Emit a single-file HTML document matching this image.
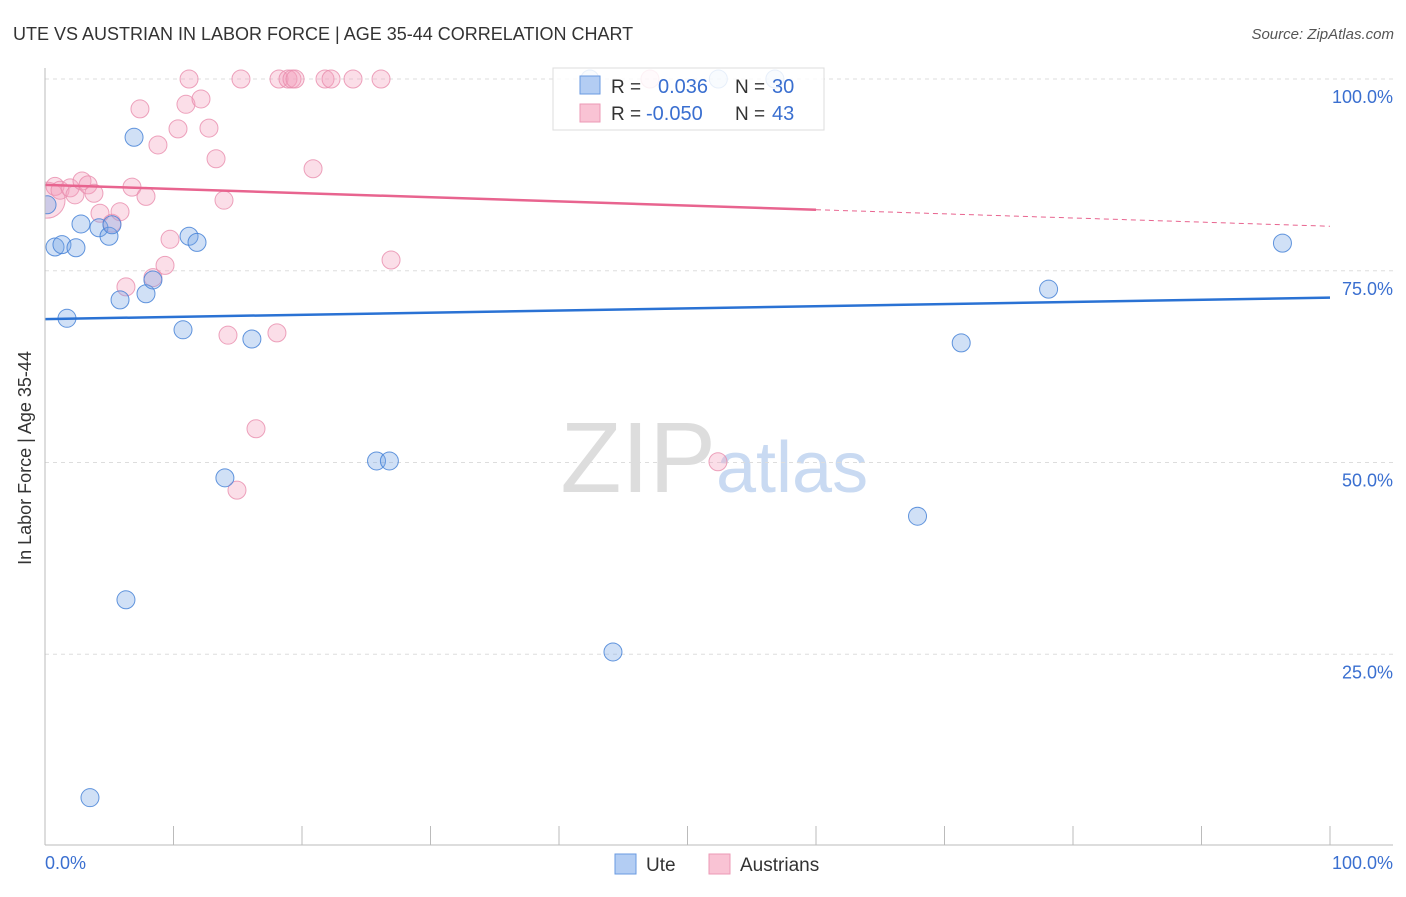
<!DOCTYPE html>
<html><head><meta charset="utf-8"><style>
body{margin:0;background:#fff;font-family:"Liberation Sans",sans-serif;}
svg text{font-family:"Liberation Sans",sans-serif;}
</style></head><body>
<svg id="c" width="1406" height="892">
<defs><clipPath id="plot"><rect x="45" y="60" width="1360" height="786"/></clipPath></defs>
<text x="13" y="40" font-size="18" fill="#333">UTE VS AUSTRIAN IN LABOR FORCE | AGE 35-44 CORRELATION CHART</text>
<text x="1394" y="39" font-size="15" fill="#555" font-style="italic" text-anchor="end">Source: ZipAtlas.com</text>
<text x="716" y="492" font-size="100" fill="#ddd" text-anchor="end" font-family="Liberation Serif">ZIP</text>
<text x="716" y="492" font-size="72" fill="#c9daf2">atlas</text>
<g id="grid"></g><g id="pts" clip-path="url(#plot)"></g><g id="trend"></g>
<line x1="45" y1="68" x2="45" y2="845" stroke="#bbb"/>
<line x1="45" y1="845" x2="1393" y2="845" stroke="#bbb"/>
<text x="31" y="458" font-size="18" fill="#333" text-anchor="middle" transform="rotate(-90 31 458)">In Labor Force | Age 35-44</text>
<text x="45" y="869" font-size="18" fill="#3a6fd0">0.0%</text>
<text x="1393" y="869" font-size="18" fill="#3a6fd0" text-anchor="end">100.0%</text>
<g>
<rect x="553" y="68" width="271" height="62" fill="#fff" fill-opacity="0.85" stroke="#ddd"/>
<rect x="580" y="76" width="20" height="18" fill="#b3cdf3" stroke="#6a9ae0"/>
<rect x="580" y="104" width="20" height="18" fill="#f9c3d4" stroke="#ec9ab6"/>
<text x="611" y="93" font-size="19" fill="#333">R =</text><text x="658" y="93" font-size="20" fill="#3a6fd0">0.036</text>
<text x="735" y="93" font-size="19" fill="#333">N =</text><text x="772" y="93" font-size="20" fill="#3a6fd0">30</text>
<text x="611" y="120" font-size="19" fill="#333">R =</text><text x="646" y="120" font-size="20" fill="#3a6fd0">-0.050</text>
<text x="735" y="120" font-size="19" fill="#333">N =</text><text x="772" y="120" font-size="20" fill="#3a6fd0">43</text>
</g>
<g><rect x="615" y="854" width="21" height="20" fill="#b3cdf3" stroke="#6a9ae0"/><text x="646" y="871" font-size="19" fill="#333">Ute</text></g>
<g><rect x="709" y="854" width="21" height="20" fill="#f9c3d4" stroke="#ec9ab6"/><text x="740" y="871" font-size="19" fill="#333">Austrians</text></g>
</svg>
<script>
const uteX=[0.16,0.78,1.32,2.41,1.71,2.8,4.2,4.98,5.21,5.84,6.93,7.86,8.4,10.74,11.21,11.83,14,16.1,6.3,3.5,25.8,26.8,44.2,67.9,71.3,78.1,96.3,42.4,52.4,56.8];
const uteY=[83.6,78.1,78.4,78,68.8,81.1,80.6,79.5,81,71.2,92.4,72,73.8,67.3,79.5,78.7,48,66.1,32.1,6.3,50.2,50.2,25.3,43,65.6,72.6,78.6,100,100,100];
const ausX=[0.16,0.78,1.17,1.95,2.33,2.88,3.35,3.81,4.28,5.21,5.84,6.3,6.77,7.39,7.86,8.79,9.34,9.73,10.35,10.97,11.21,12.14,12.76,13.31,13.93,14.24,14.94,15.25,16.42,18.05,18.21,18.91,19.22,19.46,20.86,21.79,22.26,23.97,26.15,26.93,52.37,47.08,8.4];
const ausY=[84.2,86,85.5,85.8,84.9,86.7,86.2,85.1,82.5,81.2,82.7,72.9,85.9,96.1,84.7,91.4,75.7,79.1,93.5,96.7,100,97.4,93.6,89.6,84.2,66.6,46.4,100,54.4,66.9,100,100,100,100,88.3,100,100,100,100,76.4,50.1,100,74.1];
const yTicks=[100,75,50,25];
const yTickLabels=["100.0%","75.0%","50.0%","25.0%"];
const xTicks=[0,10,20,30,40,50,60,70,80,90,100];
const uteTrend=[68.7,71.5];
const ausTrend=[86.2,80.8];
const ausSolidEnd=60;
const NS='http://www.w3.org/2000/svg';
const sx=v=>45+v*12.85, sy=v=>846-v*7.67;
function mk(t,a,p){const e=document.createElementNS(NS,t);for(const k in a)e.setAttribute(k,a[k]);p.appendChild(e);return e;}
const grid=document.getElementById('grid'),pts=document.getElementById('pts'),tr=document.getElementById('trend');
yTicks.forEach((v,i)=>{
 const l=mk('line',{x1:45,x2:1393,y1:sy(v),y2:sy(v),stroke:'#ddd','stroke-dasharray':'4,4'},grid);
 
 
 const t=mk('text',{x:1393,y:sy(v)+24,'font-size':18,fill:'#3a6fd0','text-anchor':'end'},grid);
 t.textContent=yTickLabels[i];
 
 
});
xTicks.forEach(v=>{
 const l=mk('line',{x1:sx(v),x2:sx(v),y1:826,y2:845,stroke:'#bbb'},grid);
 
 
});
ausX.forEach((x,i)=>{
 const c=mk('circle',{cx:sx(x),cy:sy(ausY[i]),r:i===0?18:9,fill:'rgba(244,160,190,0.35)',stroke:'rgba(232,140,172,0.8)','stroke-width':1},pts);
 
 
});
uteX.forEach((x,i)=>{
 const c=mk('circle',{cx:sx(x),cy:sy(uteY[i]),r:9,fill:'rgba(120,165,230,0.35)',stroke:'rgba(70,130,215,0.85)','stroke-width':1},pts);
 
 
});
const ub=mk('line',{x1:sx(0),y1:sy(uteTrend[0]),x2:sx(100),y2:sy(uteTrend[1]),stroke:'#2a72d4','stroke-width':2.5},tr);


const pm=ausTrend[0]+(ausTrend[1]-ausTrend[0])*ausSolidEnd/100;
const ps=mk('line',{x1:sx(0),y1:sy(ausTrend[0]),x2:sx(ausSolidEnd),y2:sy(pm),stroke:'#e8648f','stroke-width':2.5},tr);


const pd=mk('line',{x1:sx(ausSolidEnd),y1:sy(pm),x2:sx(100),y2:sy(ausTrend[1]),stroke:'#e8648f','stroke-width':1,'stroke-dasharray':'5,4'},tr);


</script>
</body></html>
